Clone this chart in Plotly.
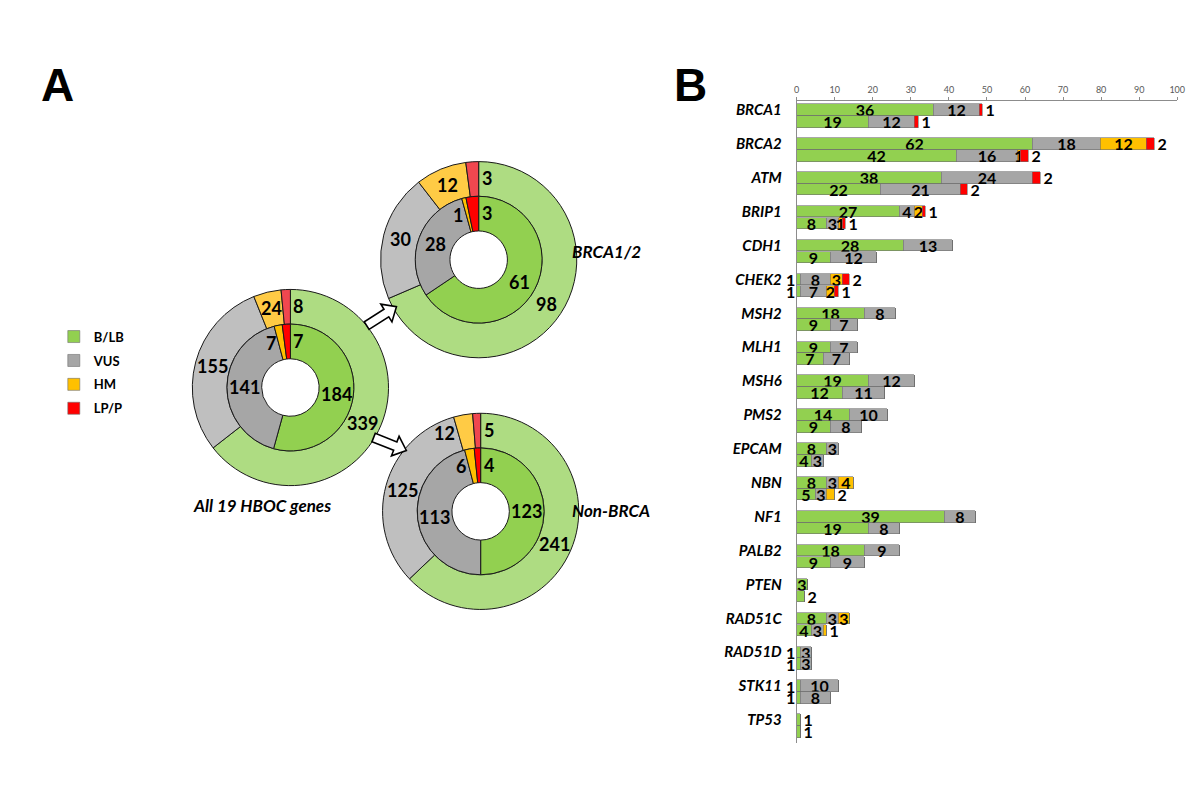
import math
import plotly.graph_objects as go

W, H = 1200, 800

# ---------------- data ----------------
categories = ["B/LB", "VUS", "HM", "LP/P"]
genes = ["BRCA1", "BRCA2", "ATM", "BRIP1", "CDH1", "CHEK2", "MSH2", "MLH1", "MSH6",
         "PMS2", "EPCAM", "NBN", "NF1", "PALB2", "PTEN", "RAD51C", "RAD51D", "STK11", "TP53"]

# upper bar of each gene (outer ring cohort)
up_blb = [36, 62, 38, 27, 28, 1, 18, 9, 19, 14, 8, 8, 39, 18, 3, 8, 1, 1, 1]
up_vus = [12, 18, 24, 4, 13, 8, 8, 7, 12, 10, 3, 3, 8, 9, 0, 3, 3, 10, 0]
up_hm = [0, 12, 0, 2, 0, 3, 0, 0, 0, 0, 0, 4, 0, 0, 0, 3, 0, 0, 0]
up_lpp = [1, 2, 2, 1, 0, 2, 0, 0, 0, 0, 0, 0, 0, 0, 0, 0, 0, 0, 0]
# lower bar of each gene (inner ring cohort)
lo_blb = [19, 42, 22, 8, 9, 1, 9, 7, 12, 9, 4, 5, 19, 9, 2, 4, 1, 1, 1]
lo_vus = [12, 16, 21, 3, 12, 7, 7, 7, 11, 8, 3, 3, 8, 9, 0, 3, 3, 8, 0]
lo_hm = [0, 1, 0, 1, 0, 2, 0, 0, 0, 0, 0, 2, 0, 0, 0, 1, 0, 0, 0]
lo_lpp = [1, 2, 2, 1, 0, 1, 0, 0, 0, 0, 0, 0, 0, 0, 0, 0, 0, 0, 0]

# donut values  [B/LB, VUS, HM, LP/P]
all_outer = [339, 155, 24, 8]
all_inner = [184, 141, 7, 7]
brca_outer = [98, 30, 12, 3]
brca_inner = [61, 28, 1, 3]
non_outer = [241, 125, 12, 5]
non_inner = [123, 113, 6, 4]

x_ticks = [0, 10, 20, 30, 40, 50, 60, 70, 80, 90, 100]

# ---------------- style ----------------
bar_colors = ["#92D050", "#A6A6A6", "#FFC000", "#FF0000"]
outer_colors = ["#AEDC82", "#BFBFBF", "#FFCB45", "#F0474F"]
inner_colors = ["#92D050", "#A6A6A6", "#FFC000", "#FF0000"]
FONT = "Lato, Carlito, 'Open Sans', sans-serif"


def px(x):
    return x / W


def py(y):
    return 1 - y / H


fig = go.Figure()

# ---------------- donuts ----------------
R_OUT, R_MID, R_HOLE = 99, 64, 29
donuts = [
    (282, 379, all_outer, all_inner),
    (472, 251, brca_outer, brca_inner),
    (474, 503, non_outer, non_inner),
]
annotations = []


def ring_labels(cx, cy, r_in, r_out, vals):
    tot = sum(vals)
    rm = (r_in + r_out) / 2
    cum = 0
    out = []
    for k, v in enumerate(vals):
        f0 = cum / tot
        f1 = (cum + v) / tot
        cum += v
        frac = v / tot
        if k == 3:
            ang = 0.0
            xa = "left"
            dx = 1
        elif k == 2 and frac < 0.04:
            ang = 2 * math.pi * f0
            xa = "right"
            dx = -1
        else:
            ang = 2 * math.pi * (f0 + f1) / 2
            xa = "center"
            dx = 0
        x = cx + rm * math.sin(ang) + dx
        y = cy - rm * math.cos(ang)
        out.append(dict(x=px(x), y=py(y), xref="paper", yref="paper", text=str(v),
                        showarrow=False, xanchor=xa, yanchor="middle",
                        font=dict(family=FONT, size=18, color="black", weight="bold")))
    return out


for cx, cy, outer, inner in donuts:
    fig.add_trace(go.Pie(
        values=outer, labels=categories, sort=False, direction="clockwise", rotation=0,
        hole=R_MID / R_OUT, textinfo="none", showlegend=False,
        marker=dict(colors=outer_colors, line=dict(color="#1a1a1a", width=1)),
        domain=dict(x=[px(cx - R_OUT), px(cx + R_OUT)], y=[py(cy + R_OUT), py(cy - R_OUT)]),
    ))
    fig.add_trace(go.Pie(
        values=inner, labels=categories, sort=False, direction="clockwise", rotation=0,
        hole=R_HOLE / R_MID, textinfo="none", showlegend=False,
        marker=dict(colors=inner_colors, line=dict(color="#1a1a1a", width=1)),
        domain=dict(x=[px(cx - R_MID), px(cx + R_MID)], y=[py(cy + R_MID), py(cy - R_MID)]),
    ))
    annotations += ring_labels(cx, cy, R_MID, R_OUT, outer)
    annotations += ring_labels(cx, cy, R_HOLE, R_MID, inner)

# ---------------- bars ----------------
n = len(genes)
y_up = list(range(n))
y_lo = [i + 0.35 for i in range(n)]
ups = [up_blb, up_vus, up_hm, up_lpp]
los = [lo_blb, lo_vus, lo_hm, lo_lpp]
BAR_FONT = dict(family=FONT, size=16, color="black", weight="bold")


def later_sum(series_list, k, i):
    return sum(series_list[j][i] for j in range(k + 1, 4))


def positions(series_list, k):
    pos = []
    for i in range(n):
        v = series_list[k][i]
        if k == 3 or (later_sum(series_list, k, i) == 0 and v <= 2):
            pos.append("outside")
        else:
            pos.append("inside")
    return pos


def texts(series_list, ypos, k):
    out = []
    for i in range(n):
        v = series_list[k][i]
        if k == 0 and v == 1 and later_sum(series_list, k, i) > 0:
            # tiny first segment: label sits left of the axis
            out.append("")
            annotations.append(dict(x=0, y=ypos[i], xref="x", yref="y", text=str(v),
                                    showarrow=False, xanchor="right", yanchor="middle",
                                    xshift=0, font=BAR_FONT))
        else:
            out.append(str(v) if v else "")
    return out


for k, cat in enumerate(categories):
    vals = ups[k] + los[k]
    fig.add_trace(go.Bar(
        x=vals, y=y_up + y_lo, orientation="h", name=cat,
        width=0.34, legendgroup=cat,
        marker=dict(color=bar_colors[k], line=dict(color="#6e6e6e", width=0.6)),
        text=texts(ups, y_up, k) + texts(los, y_lo, k),
        textposition=positions(ups, k) + positions(los, k),
        textangle=0, constraintext="none", insidetextanchor="middle",
        textfont=BAR_FONT,
        cliponaxis=False, xaxis="x", yaxis="y",
    ))

fig.update_layout(
    width=W, height=H, barmode="stack", bargap=0,
    margin=dict(l=0, r=0, t=0, b=0),
    paper_bgcolor="white", plot_bgcolor="white",
    font=dict(family=FONT, color="black"),
    xaxis=dict(domain=[px(793), px(1177)], range=[0, 100], side="top",
               tickvals=x_ticks, ticks="outside", ticklen=3, tickcolor="#8c8c8c",
               showline=True, linecolor="#8c8c8c", linewidth=1, showgrid=False,
               zeroline=False, tickfont=dict(size=9, color="#595959"), anchor="y"),
    yaxis=dict(domain=[py(735), py(92)], range=[18.68, -0.265],
               tickvals=y_up, ticktext=genes, ticks="", showline=True,
               linecolor="#8c8c8c", linewidth=1, showgrid=False, zeroline=False,
               ticklabelstandoff=11,
               tickfont=dict(size=15, color="black", weight="bold", style="italic"),
               anchor="x"),
    legend=dict(x=0.036, y=py(313), xanchor="left", yanchor="top",
                font=dict(size=13, weight="bold", color="black"),
                tracegroupgap=4, itemwidth=30, bgcolor="rgba(0,0,0,0)"),
)

# ---------------- text ----------------
titles = [
    dict(x=px(47), y=py(76), text="A", font=dict(family="Liberation Sans, Arial", size=46, weight="bold")),
    dict(x=px(686), y=py(76), text="B", font=dict(family="Liberation Sans, Arial", size=46, weight="bold")),
    dict(x=px(601), y=py(243), text="BRCA1/2", font=dict(size=17, weight="bold", style="italic")),
    dict(x=px(606), y=py(502), text="Non-BRCA", font=dict(size=17, weight="bold", style="italic")),
    dict(x=px(253), y=py(497), text="All 19 HBOC genes", font=dict(size=17, weight="bold", style="italic")),
]
for a in titles:
    a.update(xref="paper", yref="paper", showarrow=False, xanchor="center", yanchor="middle")
    a["font"].setdefault("family", FONT)
    a["font"]["color"] = "black"
annotations += titles
fig.update_layout(annotations=annotations)


# ---------------- hollow arrows ----------------
def arrow_path(tail, tip, sw=4.5, hw=10.5, hl=12):
    (x0, y0), (x1, y1) = tail, tip
    L = math.hypot(x1 - x0, y1 - y0)
    ux, uy = (x1 - x0) / L, (y1 - y0) / L
    nx, ny = -uy, ux
    bx, by = x1 - ux * hl, y1 - uy * hl
    pts = [(x0 + nx * sw, y0 + ny * sw), (bx + nx * sw, by + ny * sw), (bx + nx * hw, by + ny * hw),
           (x1, y1), (bx - nx * hw, by - ny * hw), (bx - nx * sw, by - ny * sw),
           (x0 - nx * sw, y0 - ny * sw)]
    return "M " + " L ".join(f"{px(a):.5f},{py(b):.5f}" for a, b in pts) + " Z"


shapes = [
    dict(type="path", path=arrow_path((359, 317), (389, 298)), xref="paper", yref="paper",
         fillcolor="white", line=dict(color="black", width=1.6)),
    dict(type="path", path=arrow_path((366, 429), (399, 442)), xref="paper", yref="paper",
         fillcolor="white", line=dict(color="black", width=1.6)),
]
fig.update_layout(shapes=shapes)

fig.write_html("out.html")
